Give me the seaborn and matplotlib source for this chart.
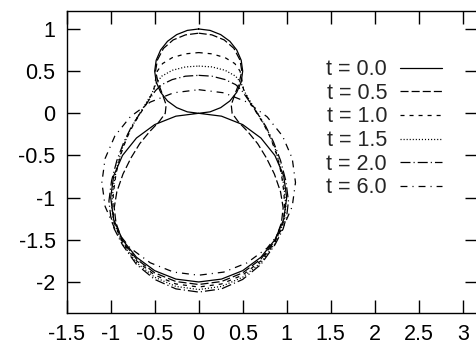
import numpy as np
import pandas as pd
import matplotlib
matplotlib.use("Agg")
import matplotlib.pyplot as plt
from matplotlib.lines import Line2D
import seaborn as sns

# ---- data: right-half profiles (top -> bottom), mirrored to close the curve ----
t_labels = ["t = 0.0", "t = 0.5", "t = 1.0", "t = 1.5", "t = 2.0", "t = 6.0"]

x_t00 = [0.0, 0.129, 0.25, 0.354, 0.433, 0.483, 0.5, 0.483, 0.433, 0.354, 0.25, 0.129, 0.0,
         0.259, 0.5, 0.707, 0.866, 0.966, 1.0, 0.966, 0.866, 0.707, 0.5, 0.259, 0.0]
y_t00 = [1.0, 0.983, 0.933, 0.854, 0.75, 0.629, 0.5, 0.371, 0.25, 0.146, 0.067, 0.017, 0.0,
         -0.034, -0.134, -0.293, -0.5, -0.741, -1.0, -1.259, -1.5, -1.707, -1.866, -1.966, -2.0]

x_t05 = [0.0, 0.15, 0.29, 0.4, 0.47, 0.49, 0.46, 0.41, 0.37, 0.38, 0.45, 0.56, 0.67, 0.77,
         0.86, 0.93, 0.96, 0.94, 0.866, 0.707, 0.5, 0.259, 0.0]
y_t05 = [0.95, 0.93, 0.87, 0.77, 0.63, 0.5, 0.36, 0.22, 0.1, 0.0, -0.1, -0.22, -0.36, -0.53,
         -0.72, -0.93, -1.12, -1.3, -1.515, -1.728, -1.892, -1.995, -2.03]

x_t10 = [0.0, 0.15, 0.3, 0.41, 0.47, 0.49, 0.51, 0.57, 0.65, 0.74, 0.82, 0.89, 0.94, 0.97,
         0.975, 0.96, 0.866, 0.707, 0.5, 0.259, 0.0]
y_t10 = [0.72, 0.705, 0.66, 0.59, 0.5, 0.4, 0.28, 0.15, 0.02, -0.13, -0.3, -0.5, -0.72, -0.95,
         -1.15, -1.3, -1.53, -1.749, -1.918, -2.024, -2.06]

x_t15 = [0.0, 0.15, 0.3, 0.42, 0.48, 0.53, 0.61, 0.7, 0.79, 0.87, 0.93, 0.97, 0.99, 0.97,
         0.866, 0.707, 0.5, 0.259, 0.0]
y_t15 = [0.56, 0.55, 0.51, 0.44, 0.36, 0.24, 0.1, -0.05, -0.22, -0.42, -0.64, -0.87, -1.1, -1.28,
         -1.545, -1.771, -1.944, -2.053, -2.09]

x_t20 = [0.0, 0.15, 0.3, 0.42, 0.49, 0.57, 0.66, 0.76, 0.85, 0.93, 0.99, 1.02, 1.0, 0.96,
         0.866, 0.707, 0.5, 0.259, 0.0]
y_t20 = [0.45, 0.44, 0.4, 0.34, 0.27, 0.15, 0.01, -0.15, -0.34, -0.56, -0.8, -1.04, -1.22, -1.37,
         -1.56, -1.792, -1.97, -2.082, -2.12]

x_t60 = [0.0, 0.285, 0.55, 0.778, 0.953, 1.063, 1.1, 1.063, 0.953, 0.778, 0.55, 0.285, 0.0]
y_t60 = [0.28, 0.243, 0.133, -0.042, -0.27, -0.535, -0.82, -1.105, -1.37, -1.598, -1.773,
         -1.883, -1.92]

x_ticks = [-1.5, -1, -0.5, 0, 0.5, 1, 1.5, 2, 2.5, 3]
x_ticklabels = ["-1.5", "-1", "-0.5", "0", "0.5", "1", "1.5", "2", "2.5", "3"]
y_ticks = [1, 0.5, 0, -0.5, -1, -1.5, -2]
y_ticklabels = ["1", "0.5", "0", "-0.5", "-1", "-1.5", "-2"]

profiles = [(x_t00, y_t00), (x_t05, y_t05), (x_t10, y_t10),
            (x_t15, y_t15), (x_t20, y_t20), (x_t60, y_t60)]

rows = []
for lab, (xs, ys) in zip(t_labels, profiles):
    xs = np.asarray(xs, float)
    ys = np.asarray(ys, float)
    xc = np.concatenate([xs, -xs[::-1][1:]])
    yc = np.concatenate([ys, ys[::-1][1:]])
    for i, (a, b) in enumerate(zip(xc, yc)):
        rows.append({"t": lab, "order": i, "x": a, "y": b})
df = pd.DataFrame(rows)

# ---- style ----
sns.set_style("ticks")
plt.rcParams["font.family"] = ["Liberation Sans", "DejaVu Sans"]
plt.rcParams["lines.scale_dashes"] = False

dash_map = {
    "t = 0.0": "",
    "t = 0.5": (5.8, 2.2),
    "t = 1.0": (2.9, 3.6),
    "t = 1.5": (0.8, 1.4),
    "t = 2.0": (7.2, 2.2, 0.8, 2.2),
    "t = 6.0": (5.0, 3.6, 0.8, 3.6),
}
lw = 0.9
fs = 15.5

fig = plt.figure(figsize=(4.76, 3.46), dpi=100)
ax = fig.add_axes([0.1401, 0.0954, 0.8641, 0.8728])

sns.lineplot(data=df, x="x", y="y", style="t", style_order=t_labels, dashes=dash_map,
             units="t", estimator=None, sort=False, color="black", linewidth=lw,
             legend=False, ax=ax)

ax.set_xlim(-1.5, 3.174)
ax.set_ylim(-2.368, 1.213)
ax.set_xticks(x_ticks)
ax.set_xticklabels(x_ticklabels)
ax.set_yticks(y_ticks)
ax.set_yticklabels(y_ticklabels)
ax.set_xlabel("")
ax.set_ylabel("")
ax.tick_params(direction="in", length=9.4, width=1.0, top=True, right=True,
               labelsize=fs, colors="black")
ax.tick_params(axis="x", pad=8)
ax.tick_params(axis="y", pad=8)
for sp in ax.spines.values():
    sp.set_linewidth(1.0)
    sp.set_color("black")
    sp.set_visible(True)

handles = []
for lab in t_labels:
    d = dash_map[lab]
    if d == "":
        handles.append(Line2D([], [], color="black", lw=lw, linestyle="-"))
    else:
        handles.append(Line2D([], [], color="black", lw=lw, dashes=d))
ax.legend(handles, t_labels, loc="upper right", bbox_to_anchor=(0.9125, 0.84),
          frameon=False, markerfirst=False, fontsize=fs, handlelength=1.95,
          handletextpad=0.6, labelspacing=0.12, borderpad=0, borderaxespad=0)

fig.savefig("out.png", dpi=100, facecolor="white")
